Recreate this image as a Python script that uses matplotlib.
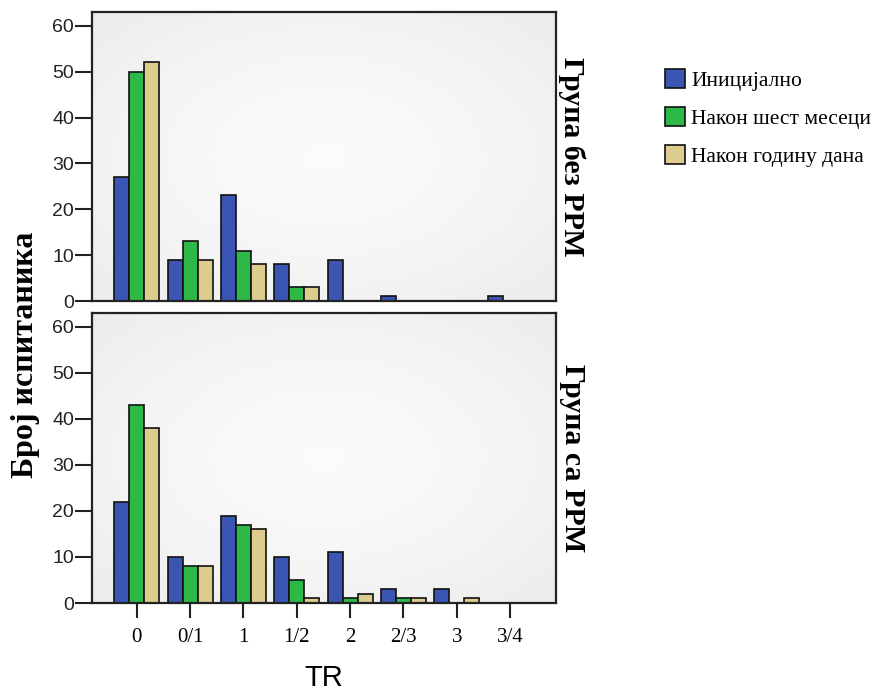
import numpy as np
import matplotlib
matplotlib.use("Agg")
import matplotlib.pyplot as plt
from matplotlib.patches import Patch

categories = ["0", "0/1", "1", "1/2", "2", "2/3", "3", "3/4"]
series_names = ["Иницијално", "Након шест месеци", "Након годину дана"]
colors = ["#3a55b4", "#2db947", "#dccd8f"]

group_without = {
    "Иницијално": [27, 9, 23, 8, 9, 1, 0, 1],
    "Након шест месеци": [50, 13, 11, 3, 0, 0, 0, 0],
    "Након годину дана": [52, 9, 8, 3, 0, 0, 0, 0],
}
group_with = {
    "Иницијално": [22, 10, 19, 10, 11, 3, 3, 0],
    "Након шест месеци": [43, 8, 17, 5, 1, 1, 0, 0],
    "Након годину дана": [38, 8, 16, 1, 2, 1, 1, 0],
}
panel_titles = ["Група без РРМ", "Група са РРМ"]
yticks = [0, 10, 20, 30, 40, 50, 60]

serif = ["Liberation Serif", "DejaVu Serif"]
sans = ["Liberation Sans", "DejaVu Sans"]

fig = plt.figure(figsize=(8.88, 6.91), dpi=100)
left, width = 92 / 888, 464 / 888
ax_top = fig.add_axes([left, 1 - 301 / 691, width, 289 / 691])
ax_bot = fig.add_axes([left, 1 - 603 / 691, width, 290 / 691])

# light radial background gradient (white centre, light grey edges)
yy, xx = np.mgrid[-1:1:200j, -1:1:200j]
r = np.clip(np.sqrt(xx ** 2 + yy ** 2) / 1.414, 0, 1)
lvl = 0.985 - 0.06 * r ** 1.5
bg = np.dstack([lvl, lvl, lvl])

x = np.arange(len(categories))
bw = 0.28
for ax, data, title in [(ax_top, group_without, panel_titles[0]),
                        (ax_bot, group_with, panel_titles[1])]:
    ax.imshow(bg, extent=[0, 1, 0, 1], transform=ax.transAxes,
              aspect="auto", zorder=0, interpolation="bilinear")
    for i, name in enumerate(series_names):
        ax.bar(x + (i - 1) * bw, data[name], width=bw, color=colors[i],
               edgecolor="#111111", linewidth=1.2, zorder=2)
    ax.set_xlim(-0.84, len(categories) - 1 + 0.86)
    ax.set_ylim(0, 63)
    ax.set_yticks(yticks)
    ax.set_yticklabels([str(t) for t in yticks], fontsize=14, family=sans,
                       color="#222222")
    ax.tick_params(axis="y", direction="out", length=12, width=1.5, pad=1,
                   color="#222222")
    for sp in ax.spines.values():
        sp.set_linewidth(1.6)
        sp.set_color("#222222")
    ax.text(1.035, 0.5, title, transform=ax.transAxes, rotation=-90,
            ha="center", va="center", fontsize=21.5, fontweight="bold",
            family=serif)

ax_top.set_xticks([])
ax_bot.set_xticks(x)
ax_bot.set_xticklabels(categories, fontsize=15, family=serif)
ax_bot.tick_params(axis="x", direction="out", length=11, width=1.5, pad=7,
                   color="#222222")
ax_bot.set_xlabel("TR", fontsize=21, family=sans, labelpad=12)

fig.text(25 / 888, 1 - 355 / 691, "Број испитаника", rotation=90,
         ha="center", va="center", fontsize=23, fontweight="bold",
         family=serif)

handles = [Patch(facecolor=c, edgecolor="#111111", linewidth=1.2) for c in colors]
fig.legend(handles, series_names, loc="upper left",
           bbox_to_anchor=(646 / 888, 1 - 50 / 691), frameon=False,
           prop={"family": serif, "size": 15.5}, handlelength=0.9,
           handleheight=0.95, handletextpad=0.3, labelspacing=0.76)

fig.savefig("out.png", dpi=100, facecolor="white")
